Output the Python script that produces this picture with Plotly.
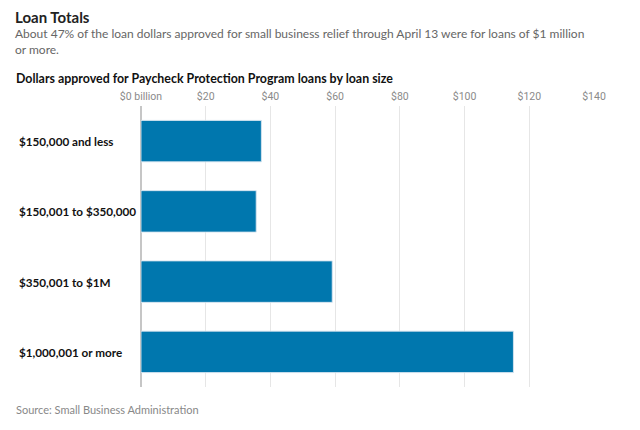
import plotly.graph_objects as go

# Loan size buckets and dollars approved (billions), through April 13
categories = ["$150,000 and less", "$150,001 to $350,000", "$350,001 to $1M", "$1,000,001 or more"]
dollars_bn = [37.2, 35.6, 59.1, 115.1]
tick_vals = [0, 20, 40, 60, 80, 100, 120, 140]
tick_text = ["$0 billion", "$20", "$40", "$60", "$80", "$100", "$120", "$140"]

# the page body has an 8px margin, so the figure starts at (8, 8)
OFF = 8
W, H = 640 - OFF, 430 - OFF
L, R, T, B = 141 - OFF, 46, 106 - OFF, 43
pw, ph = W - L - R, H - T - B


def px_x(px):
    return (px - OFF - L) / pw


def px_y(py):
    return (H - B - (py - OFF)) / ph


fig = go.Figure(go.Bar(
    x=dollars_bn, y=categories, orientation="h",
    marker=dict(color="#0077ae", line=dict(color="rgba(215,228,240,0.9)", width=1)),
    hoverinfo="x+y",
))

fig.update_layout(
    width=W, height=H,
    margin=dict(l=L, r=R, t=T, b=B),
    paper_bgcolor="white", plot_bgcolor="white",
    showlegend=False, bargap=0.41,
    font=dict(family="Lato, Noto Sans, sans-serif", color="#222"),
)
fig.update_xaxes(
    side="top", range=[0, 140], tickvals=tick_vals, ticktext=tick_text,
    tickfont=dict(family="Liberation Sans Narrow, Roboto, sans-serif", size=10.5, color="#8a8a8a"),
    showgrid=True, gridcolor="#e6e6e6", gridwidth=1,
    zeroline=True, zerolinecolor="#c6c6c6", zerolinewidth=2,
    ticks="", ticklabelstandoff=3, fixedrange=True,
)
fig.update_yaxes(
    categoryorder="array", categoryarray=categories, autorange="reversed",
    showticklabels=False, showgrid=False, zeroline=False, fixedrange=True,
)

# category labels, left aligned
for c in categories:
    fig.add_annotation(x=px_x(17), xref="paper", y=c, yref="y", text=c,
                       showarrow=False, xanchor="left", yanchor="middle",
                       font=dict(size=11.7, color="#111", weight="bold"))

fig.add_annotation(x=px_x(14), xref="paper", y=px_y(16.8), yref="paper",
                   text="Loan Totals", showarrow=False, xanchor="left", yanchor="middle",
                   borderpad=0, font=dict(size=15, color="#222", weight="bold"))
fig.add_annotation(x=px_x(14), xref="paper", y=px_y(41.5), yref="paper",
                   text="About 47% of the loan dollars approved for small business relief through April 13 were for loans of $1 million<br>or more.",
                   showarrow=False, xanchor="left", yanchor="middle", align="left",
                   borderpad=0, font=dict(size=12, color="#666"))
fig.add_annotation(x=px_x(14), xref="paper", y=px_y(78), yref="paper",
                   text="Dollars approved for Paycheck Protection Program loans by loan size",
                   showarrow=False, xanchor="left", yanchor="middle",
                   font=dict(size=12.4, color="#111", weight="bold"))
fig.add_annotation(x=px_x(14), xref="paper", y=px_y(409), yref="paper",
                   text="Source: Small Business Administration",
                   showarrow=False, xanchor="left", yanchor="middle",
                   font=dict(size=11, color="#888"))

fig.write_html("out.html")
